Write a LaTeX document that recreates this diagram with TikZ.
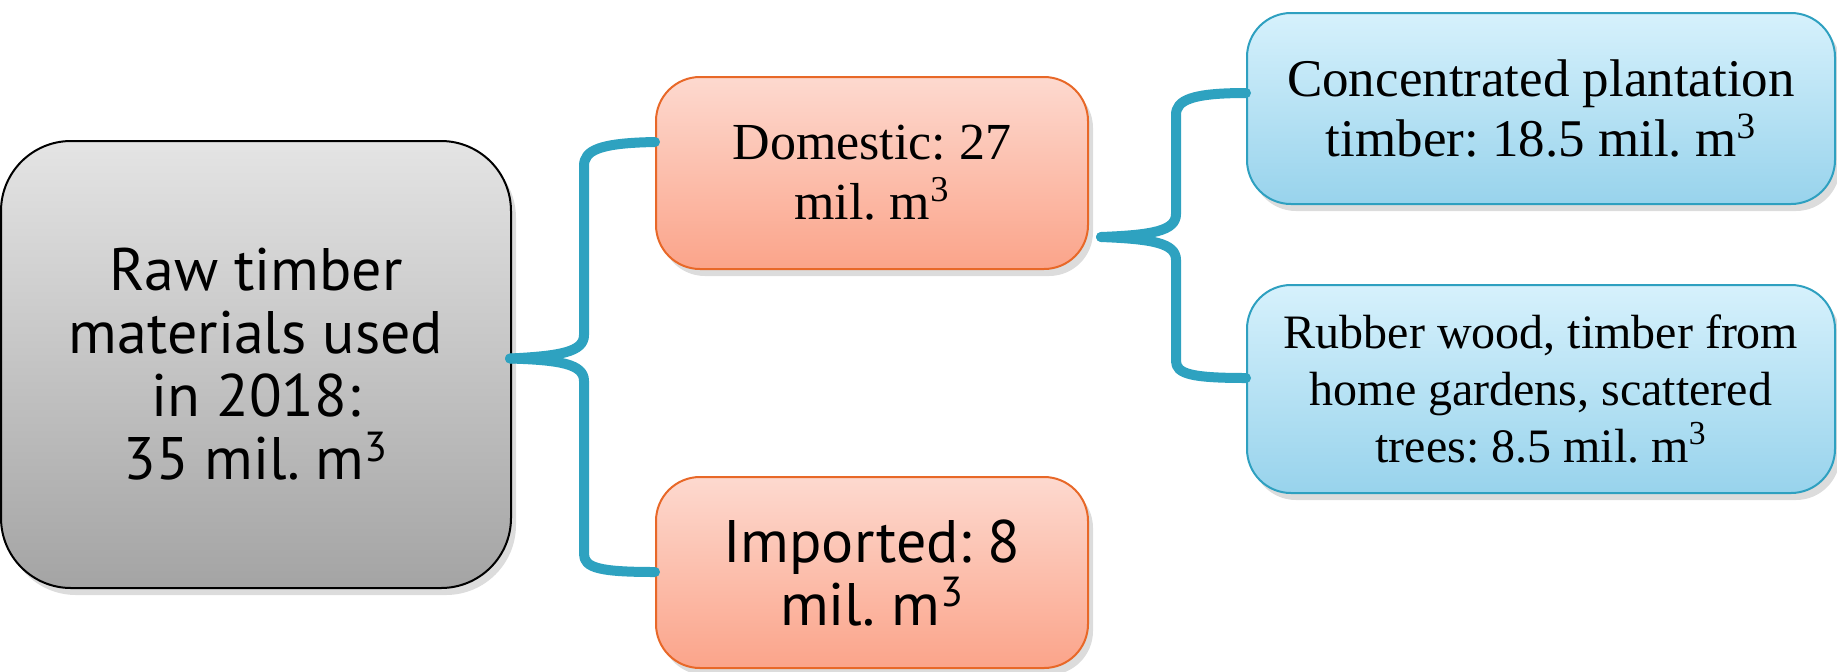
\documentclass[tikz,border=0pt]{standalone}
\usepackage{fontspec}
\setmainfont{Liberation Serif}
\newfontfamily\boxsans{PT Sans}
\frenchspacing
\usetikzlibrary{shadows,calc}
\definecolor{bracecol}{RGB}{46,162,192}
\definecolor{graytop}{RGB}{228,228,228}
\definecolor{graybot}{RGB}{164,164,164}
\definecolor{orgtop}{RGB}{253,217,207}
\definecolor{orgbot}{RGB}{251,164,138}
\definecolor{orgline}{RGB}{232,104,40}
\definecolor{bluetop}{RGB}{214,241,252}
\definecolor{bluebot}{RGB}{152,211,236}
\definecolor{blueline}{RGB}{46,160,192}
\tikzset{
  boxbase/.style={rectangle, line width=1pt, align=center, inner sep=0pt,
    drop shadow={shadow xshift=2.5pt, shadow yshift=-3.5pt, opacity=0.28}},
  graybox/.style={boxbase, draw=black, top color=graytop, bottom color=graybot,
    rounded corners=35pt, font=\boxsans\fontsize{30}{31.5}\selectfont},
  orgbox/.style={boxbase, draw=orgline, top color=orgtop, bottom color=orgbot,
    rounded corners=22pt},
  bluebox/.style={boxbase, draw=blueline, top color=bluetop, bottom color=bluebot,
    rounded corners=22pt},
  brace/.style={draw=bracecol, line width=5pt, line cap=round, line join=round}
}
\begin{document}
\begin{tikzpicture}[x=0.5pt,y=-0.5pt]
\useasboundingbox (0,0) rectangle (1837,671);
\node[graybox, minimum width=255pt, minimum height=223.5pt] (raw) at (256,364.5)
  {Raw timber\\materials used\\in 2018:\\35 mil. m\textsuperscript{3}};
\node[orgbox, minimum width=216pt, minimum height=96pt,
  font=\fontsize{26}{30}\selectfont] (dom) at (872,173)
  {Domestic: 27\\mil. m\textsuperscript{3}};
\node[orgbox, minimum width=216pt, minimum height=95.5pt,
  font=\boxsans\fontsize{30}{31.5}\selectfont] (imp) at (872,572.5)
  {Imported: 8\\mil. m\textsuperscript{3}};
\node[bluebox, minimum width=294pt, minimum height=95.5pt,
  font=\fontsize{26.5}{30}\selectfont] (conc) at (1541,108.5)
  {Concentrated plantation\\timber: 18.5 mil. m\textsuperscript{3}};
\node[bluebox, minimum width=294pt, minimum height=104pt,
  font=\fontsize{24}{28.5}\selectfont] (rub) at (1541,389)
  {Rubber wood, timber from\\home gardens, scattered\\trees: 8.5 mil. m\textsuperscript{3}};
% brace 1
\coordinate (t1) at ($(raw.east)+(-2,-6)$);
\coordinate (a1) at ($(dom.west)+(0,-31)$);
\coordinate (b1) at ($(imp.west)+(0,-0.5)$);
\draw[brace] (t1) .. controls (560,356) and (584,352) .. (584,335) -- (584,166)
  .. controls (584,150) and (600,143) .. (a1);
\draw[brace] (t1) .. controls (560,360) and (584,364) .. (584,381) -- (584,554)
  .. controls (584,568) and (600,572) .. (b1);
% brace 2
\coordinate (t2) at ($(dom.east)+(12,64)$);
\coordinate (a2) at ($(conc.west)+(0,-15.5)$);
\coordinate (b2) at ($(rub.west)+(0,-11)$);
\draw[brace] (t2) .. controls (1152,235) and (1176,231) .. (1176,214) -- (1176,115)
  .. controls (1176,100) and (1192,93) .. (a2);
\draw[brace] (t2) .. controls (1152,239) and (1176,243) .. (1176,260) -- (1176,361)
  .. controls (1176,374) and (1192,378) .. (b2);
\end{tikzpicture}
\end{document}
